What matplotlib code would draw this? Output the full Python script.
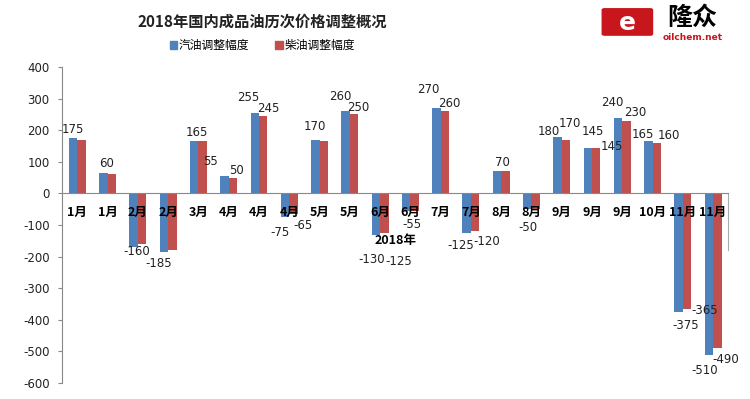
import matplotlib
matplotlib.use('Agg')
import matplotlib.pyplot as plt
import numpy as np
from matplotlib.patches import FancyBboxPatch, Patch

plt.rcParams['font.family'] = ['Noto Sans CJK SC', 'DejaVu Sans']

# adjustment rounds in 2018 (yuan/ton)
categories = ['1月', '1月', '2月', '2月', '3月', '4月', '4月', '4月', '5月', '5月', '6月',
              '6月', '7月', '7月', '8月', '8月', '9月', '9月', '9月', '10月', '11月', '11月']
gasoline = [175, 65, -170, -185, 165, 55, 255, -75, 170, 260, -130,
            -55, 270, -125, 70, -50, 180, 145, 240, 165, -375, -510]
diesel = [170, 60, -160, -180, 165, 50, 245, -65, 165, 250, -125,
          -55, 260, -120, 70, -50, 170, 145, 230, 160, -365, -490]
# labels as shown on the chart (blank = not shown)
gas_labels = ['175', '', '', '-185', '165', '55', '255', '-75', '170', '260', '-130',
              '-55', '270', '-125', '70', '-50', '180', '145', '240', '165', '-375', '-510']
diesel_labels = ['', '60', '-160', '', '', '50', '245', '-65', '', '250', '-125',
                 '', '260', '-120', '', '', '170', '145', '230', '160', '-365', '-490']
series_names = ['汽油调整幅度', '柴油调整幅度']
y_ticks = [-600, -500, -400, -300, -200, -100, 0, 100, 200, 300, 400]

# label nudges (pixels from bar end), moved by hand in the original
gas_offsets = [(0, 9), (0, 0), (0, 0), (-5, -12), (3, 9), (-14, 15), (-7, 15), (-5, -15),
               (0, 13), (-5, 15), (-4, -25), (6, -14), (-8, 19), (-6, -13), (5, 9),
               (1, -18), (-9, 5), (5, 16), (-6, 15), (-5, 7), (7, -14), (-4, -16)]
diesel_offsets = [(0, 0), (-5, 11), (-5, -8), (0, 0), (0, 0), (4, 7), (5, 8), (9, -12),
                  (0, 0), (4, 7), (14, -29), (0, 0), (4, 8), (12, -10), (0, 0), (0, 0),
                  (4, 16), (16, 1), (9, 8), (12, 7), (18, -2), (8, -11)]

BLUE = '#4F81BD'
RED = '#C0504D'

fig = plt.figure(figsize=(7.5, 3.99), dpi=100)
ax = fig.add_axes([0.083, 0.040, 0.888, 0.792])

x = np.arange(len(categories))
w = 0.28
ax.bar(x - w / 2, gasoline, w, color=BLUE, zorder=2)
ax.bar(x + w / 2, diesel, w, color=RED, zorder=2)

for xi, v, lab, off in zip(x, gasoline, gas_labels, gas_offsets):
    if lab:
        ax.annotate(lab, (xi - w / 2, v), xytext=off, textcoords='offset pixels',
                    ha='center', va='center', fontsize=8.5, color='#222222',
                    family=['DejaVu Sans'], zorder=4)
for xi, v, lab, off in zip(x, diesel, diesel_labels, diesel_offsets):
    if lab:
        ax.annotate(lab, (xi + w / 2, v), xytext=off, textcoords='offset pixels',
                    ha='center', va='center', fontsize=8.5, color='#222222',
                    family=['DejaVu Sans'], zorder=4)

ax.set_xlim(-0.5, len(categories) - 0.5)
ax.set_ylim(-600, 400)
ax.set_axisbelow(False)
ax.set_yticks(y_ticks)
ax.set_yticklabels([str(t) for t in y_ticks], fontsize=8.5, family=['DejaVu Sans'])
ax.tick_params(axis='y', length=3, color='#888888', pad=6, labelcolor='#222222')

ax.spines['top'].set_visible(False)
ax.spines['right'].set_visible(False)
ax.spines['left'].set_color('#888888')
ax.spines['bottom'].set_position(('data', 0))
ax.spines['bottom'].set_color('#888888')
ax.set_xticks(x)
ax.set_xticklabels(categories, fontsize=9, fontweight='bold')
ax.tick_params(axis='x', length=0, pad=9)
# short right border piece below the axis line
ax.plot([1, 1], [0, -180], transform=ax.get_yaxis_transform(), color='#aaaaaa',
        lw=0.8, clip_on=False)

ax.text(10.5, -150, '2018年', fontsize=9, fontweight='bold', ha='center', va='center',
        zorder=4)

fig.text(0.35, 0.945, '2018年国内成品油历次价格调整概况', ha='center', va='center',
         fontsize=11, fontweight='bold', color='#222222')

handles = [Patch(color=BLUE), Patch(color=RED)]
fig.legend(handles, series_names, loc='center', bbox_to_anchor=(0.35, 0.885), ncol=2,
           frameon=False, fontsize=8.5, handlelength=0.6, handleheight=0.6,
           handletextpad=0.2, columnspacing=2.2)

# oilchem logo
logo = FancyBboxPatch((0.806, 0.915), 0.061, 0.06, boxstyle='round,pad=0.003',
                      transform=fig.transFigure, color='#C8161D')
fig.patches.append(logo)
fig.text(0.836, 0.943, 'e', ha='center', va='center', fontsize=18, fontweight='bold',
         color='white', family=['DejaVu Sans'])
fig.text(0.923, 0.955, '隆众', ha='center', va='center', fontsize=18, fontweight='bold',
         color='black')
fig.text(0.923, 0.907, 'oilchem.net', ha='center', va='center', fontsize=6.5,
         fontweight='bold', color='#C8161D', family=['DejaVu Sans'])

fig.savefig('out.png', dpi=100)
plt.close(fig)
